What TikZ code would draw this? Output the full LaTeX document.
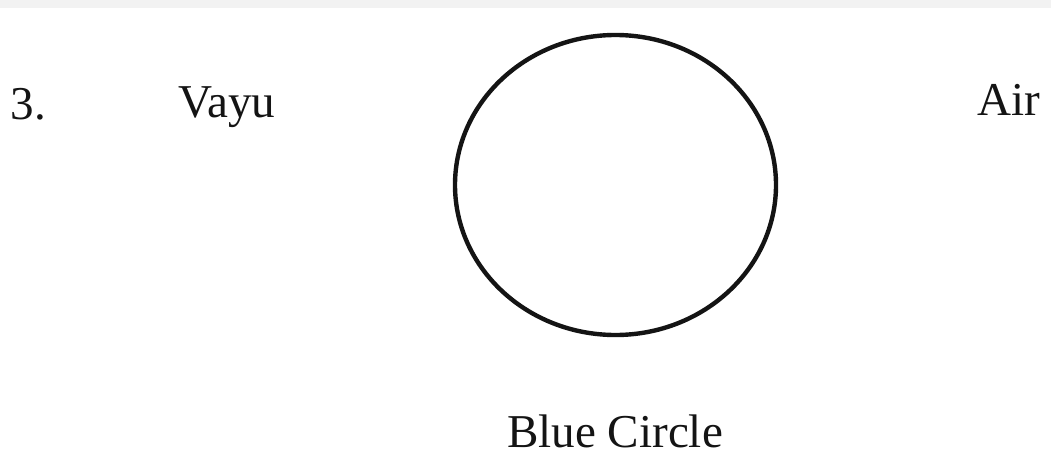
\documentclass[tikz,border=0pt]{standalone}
\usepackage{fontspec}
\setmainfont{Liberation Serif}
\usetikzlibrary{shapes.geometric}

\begin{document}
\begin{tikzpicture}[
  every node/.style={font=\fontsize{13.4}{16}\selectfont,text=black!92},
  lbl/.style={anchor=base west,inner sep=0pt},
  ring/.style={draw=black!92,ellipse,line width=1.25pt,inner sep=0pt,outer sep=0pt,minimum width=3.21cm,minimum height=3.0cm}]
\useasboundingbox (0,0) rectangle (10.51,4.70);
\fill[black!5] (0,4.62) rectangle (10.51,4.70);
\node[lbl] (num) at (0.10,3.51) {3.};
\node[lbl] (vayu) at (1.78,3.53) {Vayu};
\node[ring] (circ) at (6.155,2.85) {};
\node[lbl] (air) at (9.77,3.55) {Air};
\node[anchor=base,inner sep=0pt] (name) at (6.15,0.23) {Blue Circle};
\end{tikzpicture}
\end{document}
